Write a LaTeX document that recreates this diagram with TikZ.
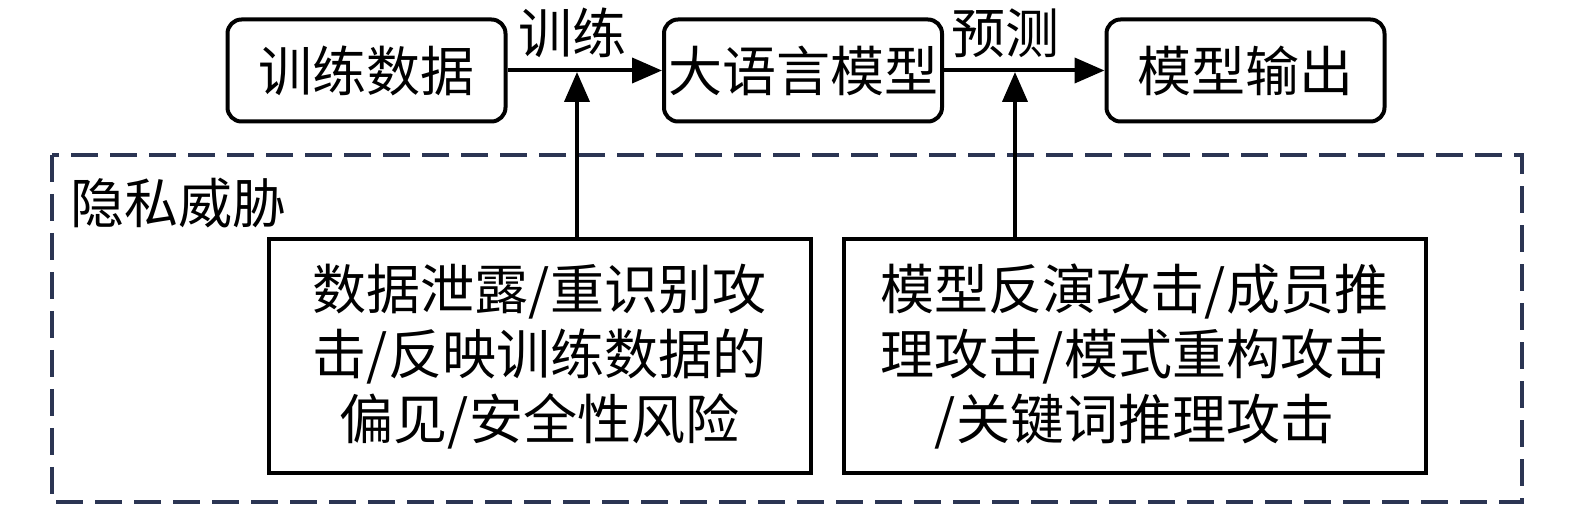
\documentclass[tikz,border=0pt]{standalone}
\usepackage{fontspec}
\setmainfont{Noto Sans CJK SC}
\usetikzlibrary{arrows.meta}
\definecolor{navy}{HTML}{2B3553}
\begin{document}
\begin{tikzpicture}[x=0.5pt,y=-0.5pt,
  cjk/.style={font=\fontsize{27}{32.5}\selectfont},
  topbox/.style={cjk, draw, line width=2pt, rounded corners=7pt, minimum width=139pt, minimum height=51pt, inner sep=0pt},
  threatbox/.style={cjk, draw, line width=2pt, minimum height=117pt, inner sep=0pt, align=center},
  flow/.style={line width=2pt, -{Triangle[length=15pt,width=12.5pt]}},
  lbl/.style={cjk, inner sep=0pt}
]
\useasboundingbox (0,0) rectangle (1575,507);
% dashed region
\draw[navy, line width=2pt, dash pattern=on 13.5pt off 6pt] (52,155) rectangle (1522,502);
\node[lbl, anchor=west] (region) at (70,203) {隐私威胁};
% top nodes
\node[topbox] (data) at (366.5,70.5) {训练数据};
\node[topbox] (llm) at (803,70.5) {大语言模型};
\node[topbox] (out) at (1245.5,70.5) {模型输出};
\draw[flow] (data) -- (llm);
\draw[flow] (llm) -- (out);
\node[lbl] (train) at (572,33) {训练};
\node[lbl] (pred) at (1005,33) {预测};
% threat boxes
\node[threatbox, minimum width=271pt] (t1) at (539.5,356.5) {数据泄露/重识别攻\\击/反映训练数据的\\偏见/安全性风险};
\node[threatbox, minimum width=291pt] (t2) at (1134.5,356.5) {模型反演攻击/成员推\\理攻击/模式重构攻击\\/关键词推理攻击};
\coordinate (c1) at (577,72);
\coordinate (c2) at (1015,72);
\draw[flow] (t1.north -| c1) -- (c1);
\draw[flow] (t2.north -| c2) -- (c2);
\end{tikzpicture}
\end{document}
